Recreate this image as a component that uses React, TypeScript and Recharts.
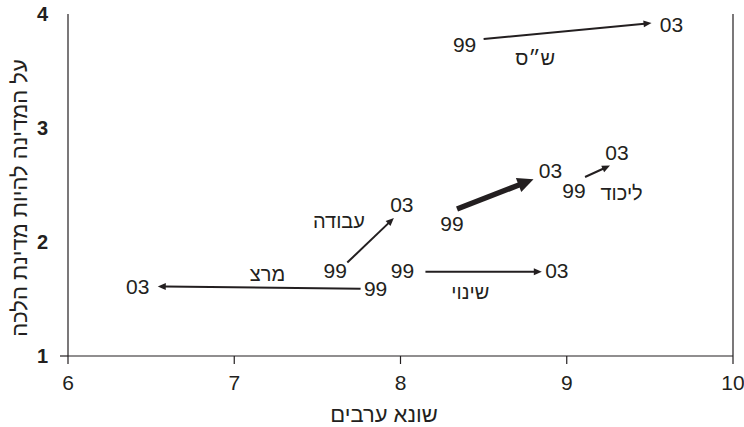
import React from "react";
import { ScatterChart, XAxis, YAxis, ReferenceLine, ReferenceDot } from "recharts";

// parties, 1999 position -> 2003 position
const parties = ["ש״ס", "ליכוד", "", "עבודה", "מרצ", "שינוי"];
const x99 = [8.5, 9.11, 8.34, 7.68, 7.76, 8.15];
const y99 = [3.78, 2.57, 2.29, 1.82, 1.59, 1.74];
const x03 = [9.51, 9.26, 8.8, 7.96, 6.54, 8.85];
const y03 = [3.92, 2.67, 2.55, 2.21, 1.61, 1.74];
const nameX = [8.81, 9.33, 0, 7.63, 7.2, 8.42];
const nameY = [3.61, 2.43, 0, 2.18, 1.72, 1.56];
const startLabel = "99";
const endLabel = "03";

const xTicks = [6, 7, 8, 9, 10];
const yTicks = [1, 2, 3, 4];
const xTitle = "שונא ערבים";
const yTitle = "על המדינה להיות מדינת הלכה";

// label offsets (px) around arrow ends, and line weights
const off99 = [[-19, 5], [-11, 13], [-5, 15], [-12, 8], [15, 0], [-23, -1]];
const off03 = [[20, 1], [7, -13], [17, -9], [8, -14], [-20, 0], [15, -1]];
const heavy = [false, false, true, false, false, false];

const INK = "#231f20";
const FONT = "'Liberation Sans', Arial, 'DejaVu Sans', sans-serif";

function Arrow(props: any) {
  const { x1, y1, x2, y2, i } = props;
  const w = heavy[i] ? 5.5 : 2;
  const head = heavy[i] ? 16 : 8;
  const hw = heavy[i] ? 7.5 : 3.5;
  const dx = x2 - x1;
  const dy = y2 - y1;
  const len = Math.hypot(dx, dy) || 1;
  const ux = dx / len;
  const uy = dy / len;
  const bx = x2 - ux * head;
  const by = y2 - uy * head;
  const px = -uy;
  const py = ux;
  const txt = { fontFamily: FONT, fontSize: 21, fill: INK, textAnchor: "middle" as const, dominantBaseline: "central" as const };
  return (
    <g>
      <line x1={x1} y1={y1} x2={bx + ux * 1} y2={by + uy * 1} stroke={INK} strokeWidth={w} />
      <polygon points={`${x2},${y2} ${bx + px * hw},${by + py * hw} ${bx - px * hw},${by - py * hw}`} fill={INK} />
      <text x={x1 + off99[i][0]} y={y1 + off99[i][1]} {...txt}>{startLabel}</text>
      <text x={x2 + off03[i][0]} y={y2 + off03[i][1]} {...txt}>{endLabel}</text>
    </g>
  );
}

function YTick(props: any) {
  const { x, y, payload } = props;
  return (
    <g>
      {payload.value === 1 && <line x1={x + 10} y1={y} x2={x + 18} y2={y} stroke={INK} strokeWidth={1.2} />}
      <text x={x - 2} y={y} textAnchor="end" dominantBaseline="central" fontFamily={FONT} fontSize={20} fontWeight="bold" fill={INK}>
        {payload.value}
      </text>
    </g>
  );
}

export default function App() {
  return (
    <div style={{ position: "absolute", left: 0, top: 0, width: 744, height: 427, background: "#fff" }}>
      <ScatterChart width={744} height={427} margin={{ top: 14, right: 11, bottom: 0, left: 0 }}>
        <XAxis
          type="number"
          dataKey="x"
          domain={[6, 10]}
          ticks={xTicks}
          interval={0}
          allowDataOverflow
          height={71}
          axisLine={{ stroke: INK, strokeWidth: 1.2 }}
          tickLine={{ stroke: INK, strokeWidth: 1.2 }}
          tickSize={8}
          tickMargin={11}
          tick={{ fontFamily: FONT, fontSize: 21, fill: INK }}
          label={{
            content: () => (
              <text x={384} y={414} textAnchor="middle" dominantBaseline="central" fontFamily={FONT} fontSize={22} fill={INK}>
                {xTitle}
              </text>
            ),
          }}
        />
        <YAxis
          type="number"
          dataKey="y"
          domain={[1, 4]}
          ticks={yTicks}
          interval={0}
          allowDataOverflow
          width={68}
          axisLine={{ stroke: INK, strokeWidth: 1.2 }}
          tickLine={false}
          tickSize={8}
          tickMargin={10}
          tick={<YTick />}
          label={{
            content: () => (
              <text
                transform="translate(19,198) rotate(-90)"
                textAnchor="middle"
                dominantBaseline="central"
                fontFamily={FONT}
                fontSize={22}
                fill={INK}
              >
                {yTitle}
              </text>
            ),
          }}
        />
        <ReferenceLine x={10} stroke={INK} strokeWidth={1.2} />
        {parties.map((p, i) => (
          <ReferenceLine
            key={"a" + i}
            segment={[
              { x: x99[i], y: y99[i] },
              { x: x03[i], y: y03[i] },
            ]}
            shape={(props: any) => <Arrow {...props} i={i} />}
          />
        ))}
        {parties.map((p, i) =>
          p ? (
            <ReferenceDot
              key={"n" + i}
              x={nameX[i]}
              y={nameY[i]}
              r={0}
              shape={(props: any) => (
                <text x={props.cx} y={props.cy} textAnchor="middle" dominantBaseline="central" fontFamily={FONT} fontSize={20} fill={INK}>
                  {p}
                </text>
              )}
            />
          ) : null
        )}
      </ScatterChart>
    </div>
  );
}
